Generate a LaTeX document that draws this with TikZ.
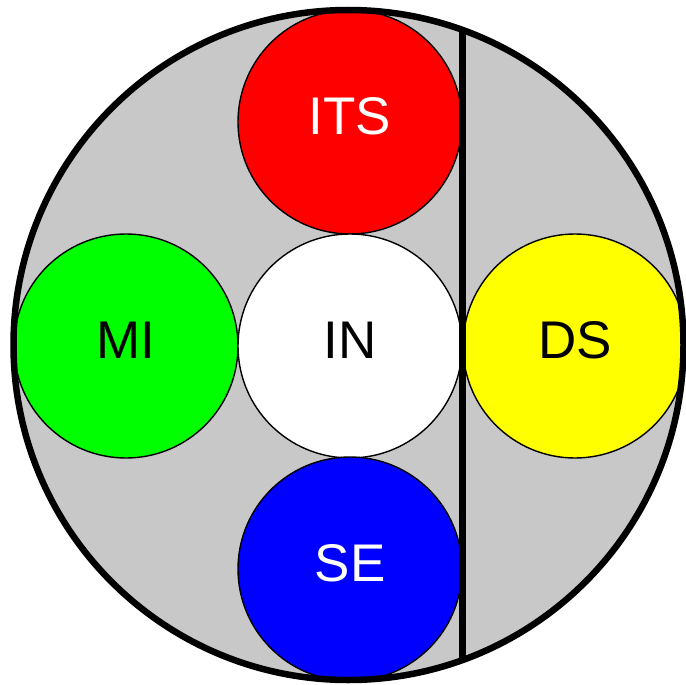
\documentclass[tikz,border=0pt]{standalone}
\usepackage{fontspec}
\setmainfont{Liberation Sans}
\definecolor{bggray}{RGB}{200,200,200}
\definecolor{pyellow}{RGB}{255,255,0}
\definecolor{pgreen}{RGB}{0,255,0}
\definecolor{pred}{RGB}{255,0,0}
\definecolor{pblue}{RGB}{0,0,255}
\newcommand{\lbl}[1]{\raisebox{-12.5pt}[0pt][0pt]{#1}}
\tikzset{
  disc/.style={circle, draw=black, line width=1.4pt, minimum size=224pt, inner sep=0pt, font=\fontsize{53}{53}\selectfont},
}
\begin{document}
\begin{tikzpicture}[x=1pt,y=-1pt]
\useasboundingbox (0,0) rectangle (686,685);
\node[circle, fill=bggray, minimum size=672pt, inner sep=0pt] (outer) at (348.5,345) {};
\node[disc, fill=pred, text=white] (its) at (350,122) {\lbl{ITS}};
\node[disc, fill=pgreen] (mi) at (126,346) {\lbl{MI}};
\node[disc, fill=white] (in) at (350,346) {\lbl{IN}};
\node[disc, fill=pyellow] (ds) at (575,346) {\lbl{DS}};
\node[disc, fill=pblue, text=white] (se) at (350,569) {\lbl{SE}};
\coordinate (ltop) at (462.5,20);
\coordinate (lbot) at (462.5,670);
\begin{scope}
\clip (outer.center) circle (334);
\draw[line width=6.5pt] (ltop) -- (lbot);
\end{scope}
\draw[line width=6.5pt] (outer.center) circle (335);
\end{tikzpicture}
\end{document}
